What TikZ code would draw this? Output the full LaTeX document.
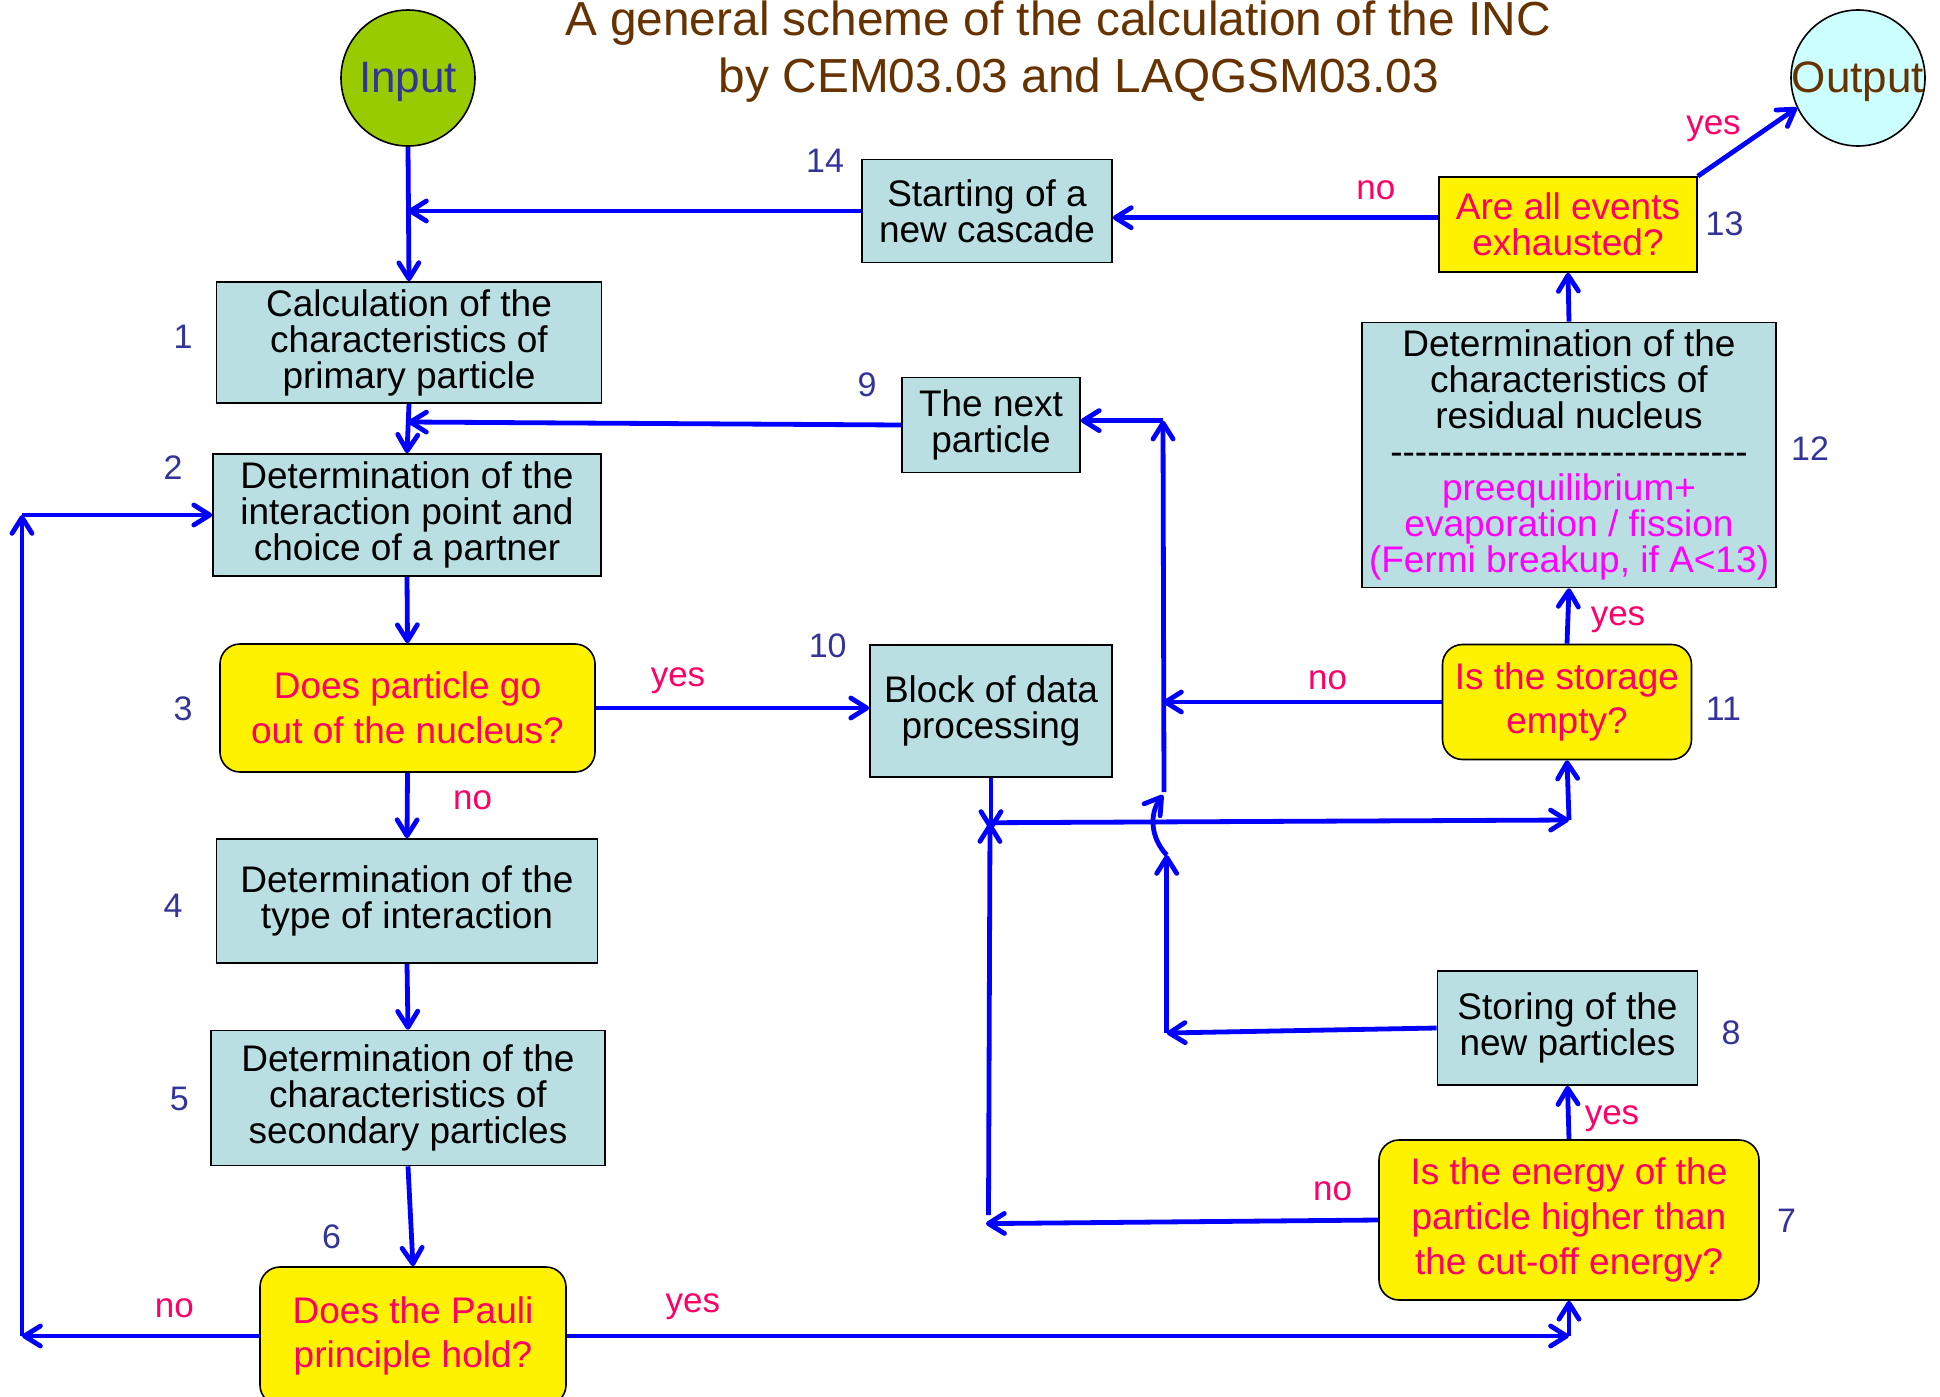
\documentclass[tikz,border=0pt]{standalone}
\usepackage{fontspec}
\setmainfont{Liberation Sans}[Ligatures=TeXOff]
\usetikzlibrary{arrows.meta,shapes.geometric}

\definecolor{boxfill}{RGB}{185,223,226}
\definecolor{asktext}{RGB}{255,0,102}
\definecolor{numcol}{RGB}{51,51,153}
\definecolor{titlecol}{RGB}{102,51,0}
\definecolor{infill}{RGB}{153,204,0}
\definecolor{outfill}{RGB}{204,255,255}
\definecolor{magtext}{RGB}{255,0,255}

\tikzset{
  stepbox/.style={draw=black, line width=0.8pt, fill=boxfill, align=center, inner sep=0pt,
    font=\fontsize{18.5}{18}\selectfont},
  askbox/.style={draw=black, line width=0.8pt, fill=yellow, rounded corners=10pt, align=center,
    inner sep=0pt, text=asktext, font=\fontsize{18.5}{22.3}\selectfont},
  terminal/.style={ellipse, draw=black, line width=0.8pt, inner sep=0pt,
    minimum width=67pt, minimum height=68pt},
  termtext/.style={font=\fontsize{22}{22}\selectfont, yshift=-2pt},
  title/.style={text=titlecol, font=\fontsize{23.9}{29}\selectfont},
  num/.style={text=numcol, font=\fontsize{17}{17}\selectfont},
  ans/.style={text=asktext, font=\fontsize{17.5}{17.5}\selectfont},
  flow/.style={blue, line width=2.4pt, -{Straight Barb[length=8pt, width=10pt, round]}},
}

\begin{document}
\begin{tikzpicture}[x=0.5pt, y=-0.5pt]
\useasboundingbox (0,0) rectangle (1940,1397);

\node[title, anchor=base] (title1) at (1058,35) {A general scheme of the calculation of the INC};
\node[title, anchor=base] (title2) at (1079,92) {by CEM03.03 and LAQGSM03.03};
\node[terminal, fill=infill, label={[termtext, text=numcol]center:Input}] (input) at (408,78) {};
\node[terminal, fill=outfill, label={[termtext, text=titlecol]center:Output}] (output) at (1858,78) {};

% left column
\node[stepbox, minimum width=192.5pt, minimum height=60.5pt] (calc) at (409,342.5) {Calculation of the\\characteristics of\\primary particle};
\node[stepbox, minimum width=194pt, minimum height=61pt] (point) at (407,515) {Determination of the\\interaction point and\\choice of a partner};
\node[askbox, minimum width=187.5pt, minimum height=64pt] (leave) at (407.5,708) {Does particle go\\out of the nucleus?};
\node[stepbox, minimum width=190.5pt, minimum height=62pt] (kind) at (407,901) {Determination of the\\type of interaction};
\node[stepbox, minimum width=197pt, minimum height=67.5pt] (second) at (408,1098) {Determination of the\\characteristics of\\secondary particles};
\node[askbox, minimum width=153pt, minimum height=69pt] (pauli) at (413,1336) {Does the Pauli\\principle hold?};

% middle column
\node[stepbox, minimum width=125pt, minimum height=51.5pt] (cascade) at (987,211) {Starting of a\\new cascade};
\node[stepbox, minimum width=89pt, minimum height=47.5pt] (next) at (991,425) {The next\\particle};
\node[stepbox, minimum width=121pt, minimum height=66pt] (block) at (991,711) {Block of data\\processing};

% right column
\node[askbox, rounded corners=0pt, minimum width=129pt, minimum height=47.5pt, font=\fontsize{18.5}{18}\selectfont] (events) at (1568,224.5) {Are all events\\exhausted?};
\node[stepbox, minimum width=207pt, minimum height=132.5pt] (residual) at (1569,455) {Determination of the\\characteristics of\\residual nucleus\\-----------------------------\\\textcolor{magtext}{preequilibrium+}\\\textcolor{magtext}{evaporation / fission}\\\textcolor{magtext}{(Fermi breakup, if A<13)}};
\node[askbox, minimum width=124.5pt, minimum height=57.5pt] (empty) at (1567,702) {Is the storage\\empty?};
\node[stepbox, minimum width=130pt, minimum height=57pt] (store) at (1567.5,1028) {Storing of the\\new particles};
\node[askbox, minimum width=190pt, minimum height=80pt] (energy) at (1569,1220) {Is the energy of the\\particle higher than\\the cut-off energy?};

% numbers
\node[num] (n1) at (183,336.5) {1};
\node[num] (n2) at (173,467.6) {2};
\node[num] (n3) at (183,709) {3};
\node[num] (n4) at (173,905.6) {4};
\node[num] (n5) at (179.4,1098.6) {5};
\node[num] (n6) at (331.6,1237) {6};
\node[num] (n7) at (1786.5,1221) {7};
\node[num] (n8) at (1731,1033) {8};
\node[num] (n9) at (867,384.8) {9};
\node[num] (n10) at (827.7,645.8) {10};
\node[num] (n11) at (1723.4,709) {11};
\node[num] (n12) at (1810,449) {12};
\node[num] (n13) at (1724.6,224) {13};
\node[num] (n14) at (825,160.8) {14};

% answers
\node[ans] (evno) at (1375.8,190) {no};
\node[ans] (evyes) at (1713.5,129) {yes};
\node[ans] (emyes) at (1618,620) {yes};
\node[ans] (emno) at (1327.5,680) {no};
\node[ans] (lvyes) at (678,681) {yes};
\node[ans] (lvno) at (472.6,800) {no};
\node[ans] (pano) at (174.4,1308) {no};
\node[ans] (payes) at (692.8,1307) {yes};
\node[ans] (enyes) at (1612,1119) {yes};
\node[ans] (enno) at (1332.5,1191) {no};

% joints
\coordinate (top9) at (1163,420.6);
\coordinate (rise) at (1164,792);
\coordinate (jump) at (1163,795);
\coordinate (store8) at (1166.7,1033);
\coordinate (under) at (1166.7,855);
\coordinate (back9) at (408,422);
\coordinate (left6) at (22,1336);
\coordinate (left2) at (22,515);
\coordinate (right6) at (1569,1336);
\coordinate (low7) at (986,1223.6);
\coordinate (up7) at (988.5,1215);
\coordinate (meet) at (990,823);
\coordinate (hit10) at (991,830);
\coordinate (from10) at (995,822.7);
\coordinate (right11) at (1569,820);

\draw[flow] (input.south) -- (calc.north);
\draw[flow] (cascade.west) -- (cascade.west -| input);
\draw[flow] ([yshift=3.4pt]events.west) -- ([yshift=3.4pt]events.west -| cascade.east);
\draw[flow] (events.north east) -- (output.206);
\draw[flow] (residual.north) -- (events.south);
\draw[flow] (empty.north) -- (residual.south);
\draw[flow] (empty.west) -- (empty.west -| top9);
\draw[flow] (rise) -- (top9);
\draw[flow] (top9) -- (next.east |- top9);
\draw[flow] (next.west) -- (back9);
\draw[flow] (calc.south) -- (point.north);
\draw[flow] (point.south) -- (leave.north);
\draw[flow] (leave.east) -- (leave.east -| block.west);
\draw[flow] (leave.south) -- (kind.north);
\draw[flow] (kind.south) -- (second.north);
\draw[flow] (second.south) -- (pauli.north);
\draw[flow] (pauli.west) -- (left6);
\draw[flow] (left6) -- (left2);
\draw[flow] (left2) -- (point.west);
\draw[flow] (pauli.east) -- (right6);
\draw[flow] (right6) -- (energy.south);
\draw[flow] (energy.north) -- (store.south);
\draw[flow] (energy.west) -- (low7);
\draw[flow] (up7) -- (meet);
\draw[flow] (block.south) -- (hit10);
\draw[flow] (from10) -- (right11);
\draw[flow] (right11) -- (empty.south);
\draw[flow] (store.west) -- (store8);
\draw[flow] (store8) -- (under);
\draw[flow] (under) to[bend left=40] (jump);

\end{tikzpicture}
\end{document}
